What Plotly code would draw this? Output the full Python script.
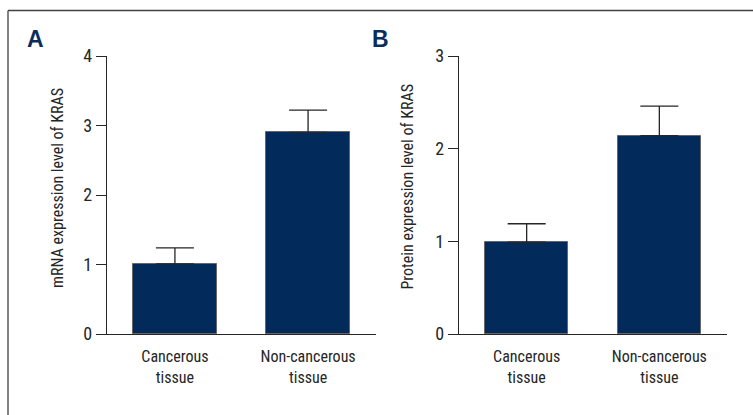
import plotly.graph_objects as go

categories = ["Cancerous<br>tissue", "Non-cancerous<br>tissue"]
mrna_values = [1.01, 2.90]
mrna_errors = [0.23, 0.32]
protein_values = [0.99, 2.14]
protein_errors = [0.20, 0.32]
mrna_ticks = [0, 1, 2, 3, 4]
protein_ticks = [0, 1, 2, 3]

W, H = 753, 415
NAVY = "#022a5b"
DARK = "#262626"
FONT = ("Roboto Condensed, Noto Sans Condensed, Open Sans Condensed, "
        "Liberation Sans Narrow, Arial Narrow, DejaVu Sans Condensed, sans-serif")
FS = 16
FS_TICK = 18

fig = go.Figure()

def add_panel(values, errors, xa, ya):
    fig.add_trace(go.Bar(
        x=[0, 1], y=values, xaxis=xa, yaxis=ya, width=0.63,
        marker=dict(color=NAVY, line=dict(color="#666666", width=1)),
        error_y=dict(type="data", array=errors, arrayminus=[0, 0], symmetric=False,
                     color=DARK, thickness=1.3, width=19),
        showlegend=False, hoverinfo="skip"))

add_panel(mrna_values, mrna_errors, "x", "y")
add_panel(protein_values, protein_errors, "x2", "y2")

ydom = [1 - 334 / H, 1 - 56 / H]
xcommon = dict(range=[-0.51, 1.51], tickvals=[0, 1], ticktext=categories, showline=True,
               linecolor=DARK, linewidth=1.4, ticks="", showgrid=False, zeroline=False,
               automargin=False, ticklabelstandoff=8,
               tickfont=dict(family=FONT, size=FS, color=DARK), fixedrange=True)
ycommon = dict(showline=True, linecolor=DARK, linewidth=1.4, ticks="outside", ticklen=10,
               tickwidth=1.4, tickcolor=DARK, showgrid=False, zeroline=False,
               automargin=False,
               tickfont=dict(family=FONT, size=FS_TICK, color=DARK), fixedrange=True)

fig.update_layout(
    width=W, height=H, margin=dict(l=0, r=0, t=0, b=0, pad=0, autoexpand=False),
    paper_bgcolor="white", plot_bgcolor="white", bargap=0,
    xaxis=dict(domain=[107 / W, 376 / W], anchor="y", **xcommon),
    yaxis=dict(domain=ydom, anchor="x", range=[0, 4], tickvals=mrna_ticks, **ycommon),
    xaxis2=dict(domain=[459 / W, 727 / W], anchor="y2", **xcommon),
    yaxis2=dict(domain=ydom, anchor="x2", range=[0, 3], tickvals=protein_ticks, **ycommon),
)

# frame (only top and left edges are inside the picture)
ytop = 1 - 10.5 / H
fig.add_shape(type="line", xref="paper", yref="paper", x0=8 / W, x1=1, y0=ytop, y1=ytop,
              line=dict(color="#404040", width=1.3))
fig.add_shape(type="line", xref="paper", yref="paper", x0=8 / W, x1=8 / W, y0=0, y1=ytop,
              line=dict(color="#404040", width=1.3))

# axis titles
fig.add_annotation(text="mRNA expression level of KRAS", xref="paper", yref="paper",
                   x=57 / W, y=1 - 188 / H, textangle=-90, showarrow=False,
                   xanchor="center", yanchor="middle",
                   font=dict(family=FONT, size=FS, color=DARK))
fig.add_annotation(text="Protein expression level of KRAS", xref="paper", yref="paper",
                   x=407 / W, y=1 - 187.5 / H, textangle=-90, showarrow=False,
                   xanchor="center", yanchor="middle",
                   font=dict(family=FONT, size=FS, color=DARK))

# panel letters
for letter, xpx in [("A", 35), ("B", 380)]:
    fig.add_annotation(text="<b>%s</b>" % letter, xref="paper", yref="paper",
                       x=xpx / W, y=1 - 39 / H, showarrow=False,
                       xanchor="center", yanchor="middle",
                       font=dict(family="Liberation Sans, Arial, sans-serif", size=23, color="#0b2d5e"))

fig.write_html("out.html")
